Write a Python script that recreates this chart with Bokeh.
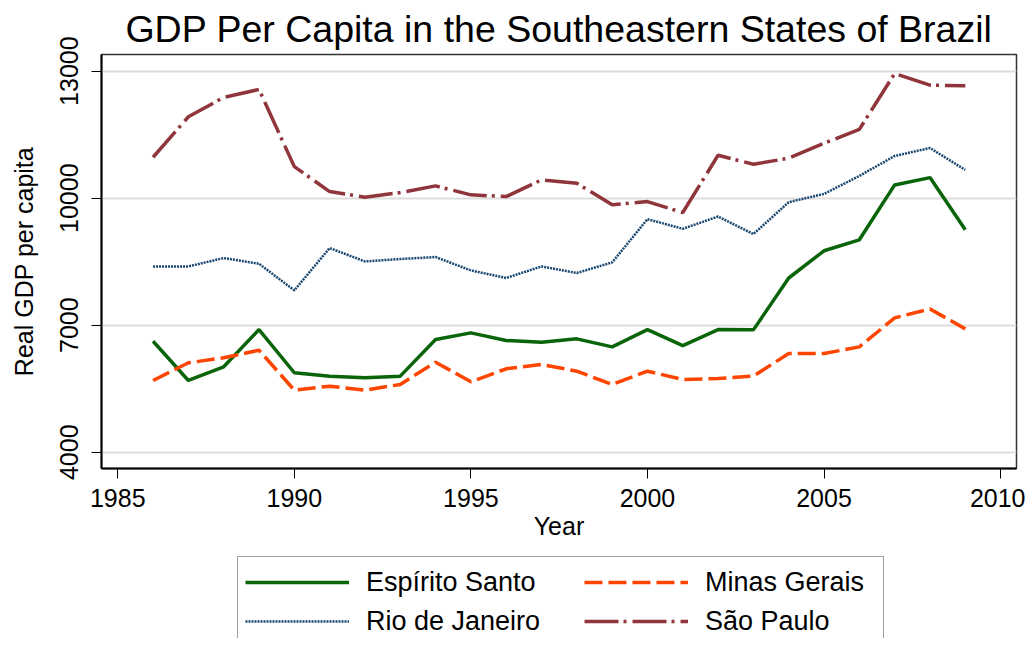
from bokeh.plotting import figure
from bokeh.models import Range1d, FixedTicker, Legend, LegendItem
from bokeh.layouts import column
from bokeh.embed import file_html
from bokeh.resources import INLINE

years = list(range(1986, 2010))
espirito_santo = [6621, 5695, 6018, 6897, 5877, 5797, 5759, 5797, 6661, 6819, 6640, 6598,
                  6678, 6489, 6897, 6520, 6897, 6890, 8115, 8758, 9017, 10313, 10486, 9253]
minas_gerais = [5695, 6112, 6230, 6409, 5467, 5561, 5467, 5601, 6126, 5664, 5971, 6072,
                5914, 5601, 5914, 5719, 5742, 5797, 6330, 6330, 6489, 7172, 7385, 6913]
rio_de_janeiro = [8388, 8388, 8586, 8452, 7823, 8822, 8506, 8563, 8610, 8294, 8115, 8388,
                  8233, 8483, 9505, 9277, 9566, 9152, 9905, 10101, 10525, 10997, 11185, 10667]
sao_paulo = [10966, 11923, 12380, 12568, 10745, 10156, 10023, 10132, 10290, 10078, 10038, 10431,
             10353, 9842, 9920, 9661, 11013, 10801, 10943, 11296, 11626, 12945, 12670, 12653]
x_ticks = [1985, 1990, 1995, 2000, 2005, 2010]
y_ticks = [4000, 7000, 10000, 13000]

FONT = "Liberation Sans"
STYLES = {
    "es": dict(line_color="#0a640a", line_width=3.5),
    "mg": dict(line_color="#ff4500", line_width=3.5, line_dash="18 6"),
    "rj": dict(line_color="#1a476f", line_width=2.5, line_dash="2 1"),
    "sp": dict(line_color="#90353b", line_width=3.5, line_dash="34 5 3 6"),
}

p = figure(width=1025, height=550, output_backend="svg", toolbar_location=None,
           x_range=Range1d(1984.54, 2010.45), y_range=Range1d(3616, 13393),
           title="GDP Per Capita in the Southeastern States of Brazil",
           min_border_left=101, min_border_right=9, min_border_top=54, min_border_bottom=82)

p.title.text_font = FONT
p.title.text_font_size = "37.5px"
p.title.text_font_style = "normal"
p.title.align = "center"
p.title.text_color = "black"
p.title.standoff = 9

p.background_fill_color = "white"
p.border_fill_color = "white"
p.outline_line_color = "#333333"
p.outline_line_width = 1.5

p.xgrid.visible = False
p.ygrid.grid_line_color = "#dddddd"
p.ygrid.grid_line_width = 2

for ax in (p.xaxis[0], p.yaxis[0]):
    ax.axis_line_color = "black"
    ax.axis_line_width = 2
    ax.major_tick_line_color = "black"
    ax.major_tick_line_width = 1
    ax.major_tick_out = 10
    ax.major_tick_in = 0
    ax.minor_tick_line_color = None
    ax.major_label_text_font = FONT
    ax.major_label_text_font_size = "25px"
    ax.major_label_text_color = "black"
    ax.axis_label_text_font = FONT
    ax.axis_label_text_font_size = "25px"
    ax.axis_label_text_font_style = "normal"
    ax.axis_label_text_color = "black"

p.xaxis.ticker = FixedTicker(ticks=x_ticks)
p.yaxis.ticker = FixedTicker(ticks=y_ticks)
p.yaxis.major_label_orientation = "vertical"
p.xaxis.axis_label = "Year"
p.yaxis.axis_label = "Real GDP per capita"
p.xaxis.major_label_standoff = 10
p.xaxis.axis_label_standoff = 2
p.yaxis.major_label_standoff = 13
p.yaxis.axis_label_standoff = 20

p.line(years, espirito_santo, **STYLES["es"])
p.line(years, minas_gerais, **STYLES["mg"])
p.line(years, rio_de_janeiro, **STYLES["rj"])
p.line(years, sao_paulo, **STYLES["sp"])

# legend panel below the chart (its frame is aligned with the chart's frame)
leg = figure(width=1025, height=88, output_backend="svg", toolbar_location=None,
             x_range=Range1d(0, 1), y_range=Range1d(0, 1),
             min_border_left=0, min_border_right=0, min_border_top=0, min_border_bottom=0)
leg.axis.visible = False
leg.grid.visible = False
leg.outline_line_color = None
leg.background_fill_color = "white"
leg.border_fill_color = "white"

# key renderers: the same series, drawn outside this panel's visible range
k_es = leg.line(years, espirito_santo, **STYLES["es"])
k_mg = leg.line(years, minas_gerais, **STYLES["mg"])
k_rj = leg.line(years, rio_de_janeiro, **STYLES["rj"])
k_sp = leg.line(years, sao_paulo, **STYLES["sp"])


def make_legend(items, loc, label_width, boxed):
    lg = Legend(items=items, location=loc)
    lg.label_text_font = FONT
    lg.label_text_font_size = "27px"
    lg.label_text_color = "black"
    lg.glyph_width = 104
    lg.glyph_height = 36
    lg.label_height = 36
    lg.label_width = label_width
    lg.label_standoff = 17
    lg.spacing = 3
    lg.padding = 7
    lg.margin = 0
    if boxed:
        lg.border_line_color = "#404040"
        lg.border_line_width = 1.5
        lg.background_fill_color = "white"
        lg.background_fill_alpha = 1.0
    else:
        lg.border_line_color = None
        lg.background_fill_alpha = 0.0
    return lg


legend_left = make_legend([
    LegendItem(label="Espírito Santo", renderers=[k_es]),
    LegendItem(label="Rio de Janeiro", renderers=[k_rj]),
], (136, -9), 510, True)
legend_right = make_legend([
    LegendItem(label="Minas Gerais", renderers=[k_mg]),
    LegendItem(label="São Paulo", renderers=[k_sp]),
], (483, -1), 150, False)
leg.add_layout(legend_left)
leg.add_layout(legend_right)

layout = column(p, leg, spacing=0)
open("out.html", "w").write(file_html(layout, INLINE))
